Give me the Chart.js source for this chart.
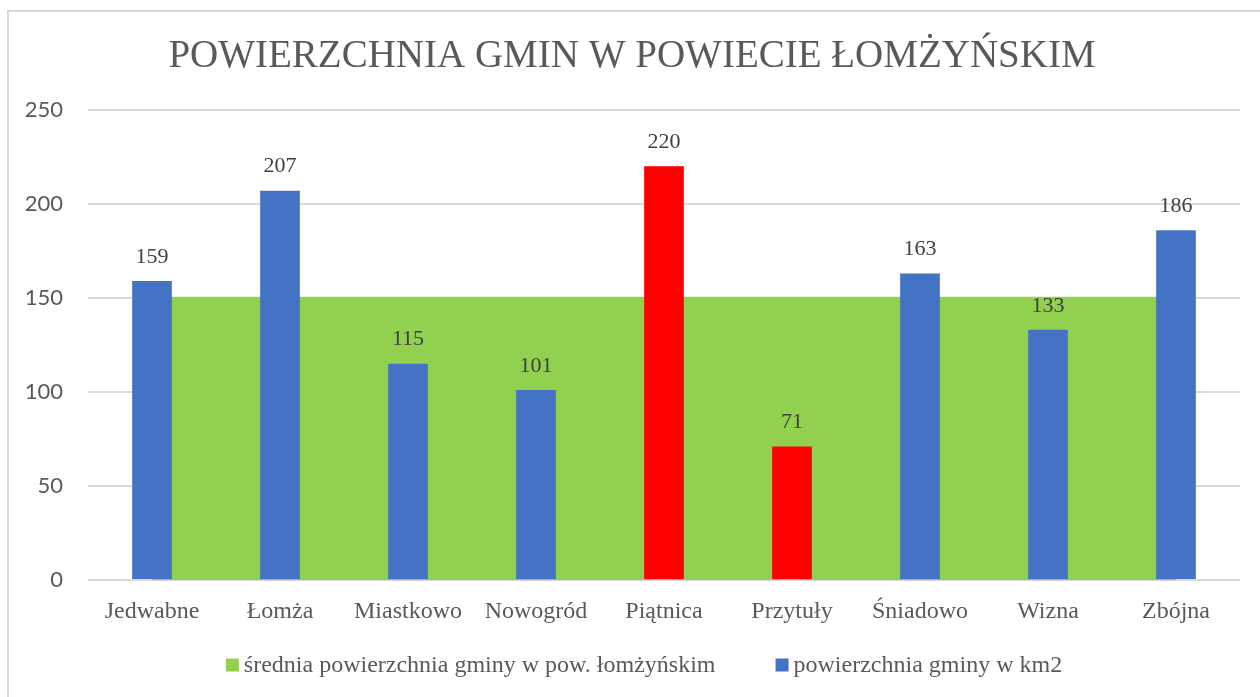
<!DOCTYPE html>
<html>
<head>
<meta charset="utf-8">
<script src="https://cdn.jsdelivr.net/npm/chart.js@4/dist/chart.umd.min.js"></script>
<style>
  html, body { margin: 0; padding: 0; background: #ffffff; }
  #wrap { position: relative; width: 1260px; height: 697px; overflow: hidden; }
  #frame { position: absolute; left: 7px; top: 10px; width: 1300px; height: 720px; border: 2px solid #d9d9d9; pointer-events: none; box-sizing: border-box; }
  canvas { position: absolute; left: 0; top: 0; }
</style>
</head>
<body>
<div id="wrap">
  <canvas id="c" width="1260" height="697"></canvas>
  <div id="frame"></div>
</div>
<script>
const titleText = 'POWIERZCHNIA GMIN W POWIECIE ŁOMŻYŃSKIM';
const categories = ['Jedwabne', 'Łomża', 'Miastkowo', 'Nowogród', 'Piątnica', 'Przytuły', 'Śniadowo', 'Wizna', 'Zbójna'];
const areaValues = [159, 207, 115, 101, 220, 71, 163, 133, 186];
const averageValues = [150.6, 150.6, 150.6, 150.6, 150.6, 150.6, 150.6, 150.6, 150.6];
const barColors = ['#4472c4', '#4472c4', '#4472c4', '#4472c4', '#ff0000', '#ff0000', '#4472c4', '#4472c4', '#4472c4'];
const averageLabel = 'średnia powierzchnia gminy w pow. łomżyńskim';
const areaLabel = 'powierzchnia gminy w km2';
const yTicks = [0, 50, 100, 150, 200, 250];

const SERIF = "'Liberation Serif', 'DejaVu Serif', serif";

const valueLabels = {
  id: 'valueLabels',
  afterDatasetsDraw(chart) {
    const ctx = chart.ctx;
    chart.data.datasets.forEach((ds, i) => {
      if (ds.type !== 'bar') return;
      const meta = chart.getDatasetMeta(i);
      ctx.save();
      ctx.font = '22px ' + SERIF;
      ctx.fillStyle = '#404040';
      ctx.textAlign = 'center';
      ctx.textBaseline = 'middle';
      meta.data.forEach((el, j) => {
        ctx.fillText(String(ds.data[j]), el.x, el.y - 24);
      });
      ctx.restore();
    });
  }
};

// Legend drawn below the axis labels (Excel-like spacing)
const bottomLegend = {
  id: 'bottomLegend',
  afterDraw(chart) {
    const ctx = chart.ctx;
    const box = 13, gap = 5, itemGap = 60, centerX = 644, centerY = 665;
    const items = chart.data.datasets.map(ds => ({
      text: ds.label,
      color: Array.isArray(ds.backgroundColor) ? ds.backgroundColor[0] : ds.backgroundColor
    }));
    ctx.save();
    ctx.font = '24px ' + SERIF;
    ctx.textBaseline = 'middle';
    ctx.textAlign = 'left';
    const widths = items.map(it => ctx.measureText(it.text).width);
    let total = 0;
    widths.forEach((w, i) => { total += box + gap + w + (i < widths.length - 1 ? itemGap : 0); });
    let x = centerX - total / 2;
    items.forEach((it, i) => {
      ctx.fillStyle = it.color;
      ctx.fillRect(x, centerY - box / 2, box, box);
      ctx.fillStyle = '#595959';
      ctx.fillText(it.text, x + box + gap, centerY + 1);
      x += box + gap + widths[i] + itemGap;
    });
    ctx.restore();
  }
};

new Chart(document.getElementById('c'), {
  data: {
    labels: categories,
    datasets: [
      {
        type: 'line',
        label: averageLabel,
        data: averageValues,
        backgroundColor: '#92d050',
        borderColor: '#92d050',
        borderWidth: 0,
        pointRadius: 0,
        tension: 0,
        fill: 'origin',
        order: 2
      },
      {
        type: 'bar',
        label: areaLabel,
        data: areaValues,
        backgroundColor: barColors,
        borderWidth: 0,
        barPercentage: 0.31,
        categoryPercentage: 1,
        order: 1
      }
    ]
  },
  options: {
    responsive: false,
    animation: false,
    layout: { padding: { left: 24, right: 20, top: 0, bottom: 60 } },
    plugins: {
      tooltip: { enabled: false },
      legend: { display: false },
      title: {
        display: true,
        text: titleText,
        color: '#595959',
        font: { family: SERIF, size: 39, weight: 'normal' },
        padding: { top: 33, bottom: 30 }
      }
    },
    scales: {
      x: {
        offset: true,
        grid: { display: false, drawTicks: false },
        border: { display: false },
        ticks: {
          padding: 17,
          color: '#595959',
          font: { family: SERIF, size: 24 },
          maxRotation: 0,
          autoSkip: false
        },
        afterFit(s) { s.height = 57; }
      },
      y: {
        min: 0,
        max: 250,
        afterBuildTicks(s) { s.ticks = yTicks.map(v => ({ value: v })); },
        grid: { color: '#d9d9d9', lineWidth: 2, drawTicks: false },
        border: { display: false },
        ticks: {
          padding: 25,
          color: '#595959',
          font: { family: "Lato, 'Open Sans', sans-serif", size: 22 }
        },
        afterFit(s) { s.width = 64; }
      }
    }
  },
  plugins: [valueLabels, bottomLegend]
});
</script>
</body>
</html>
